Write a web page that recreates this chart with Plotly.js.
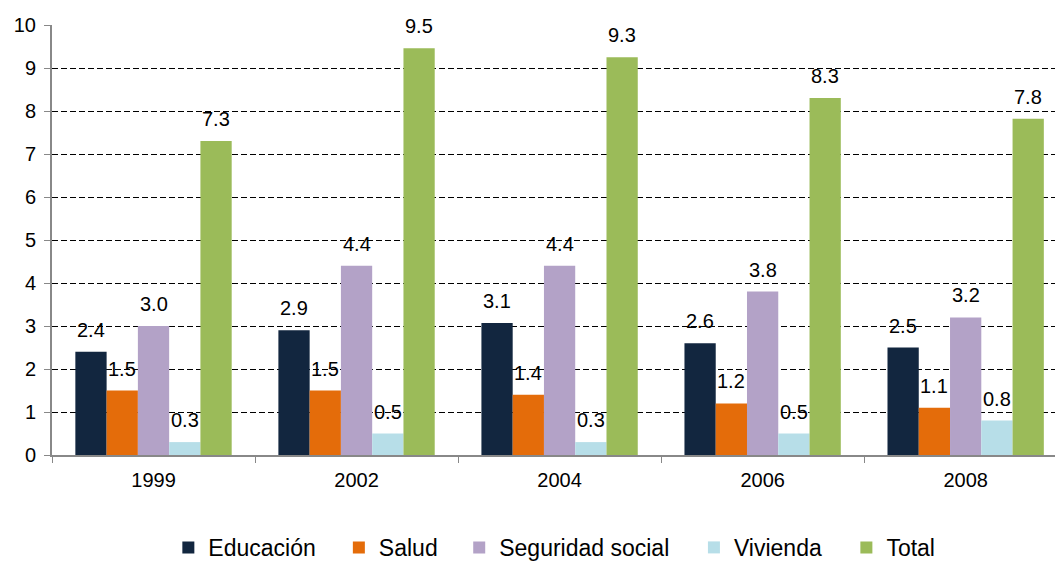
<!DOCTYPE html>
<html>
<head>
<meta charset="utf-8">
<script src="https://cdn.plot.ly/plotly-3.0.1.min.js"></script>
<style>html,body{margin:0;padding:0;background:#fff;}#chart{width:1055px;height:562px;}</style>
</head>
<body>
<div id="chart"></div>
<script>
const years = ["1999", "2002", "2004", "2006", "2008"];
const seriesNames = ["Educación", "Salud", "Seguridad social", "Vivienda", "Total"];
const educacion = [2.4, 2.9, 3.07, 2.6, 2.5];
const salud = [1.5, 1.5, 1.4, 1.2, 1.1];
const seguridad = [3.0, 4.4, 4.4, 3.8, 3.2];
const vivienda = [0.3, 0.5, 0.3, 0.5, 0.8];
const total = [7.3, 9.46, 9.25, 8.3, 7.82];
const colors = ["#12263F", "#E46C0A", "#B3A2C7", "#B7DEE8", "#9BBB59"];

const allSeries = [educacion, salud, seguridad, vivienda, total];
const bargap = 0.23;
const n = allSeries.length;
const w = (1 - bargap) / n;

const FONT = "Liberation Sans, Arial, sans-serif";

// legend entry positions (paper fraction of plot width)
const legendX = [0.116, 0.286, 0.406, 0.640, 0.792];
const legendIds = ["legend", "legend2", "legend3", "legend4", "legend5"];

const traces = allSeries.map((vals, i) => ({
  type: "bar",
  name: seriesNames[i],
  x: years,
  y: vals,
  legend: legendIds[i],
  marker: {color: colors[i], line: {width: 0}},
  hoverinfo: "none"
}));

const annotations = [];
allSeries.forEach((vals, i) => {
  vals.forEach((v, j) => {
    annotations.push({
      x: j + (i - (n - 1) / 2) * w,
      y: v,
      xref: "x", yref: "y",
      text: v.toFixed(1),
      showarrow: false,
      yanchor: "middle",
      yshift: 22,
      font: {family: FONT, size: 20, color: "#000"}
    });
  });
});

const layout = {
  width: 1055, height: 562,
  margin: {l: 52, r: 0, t: 25, b: 106.5, autoexpand: false},
  paper_bgcolor: "#fff", plot_bgcolor: "#fff",
  font: {family: FONT, size: 20, color: "#000"},
  barmode: "group",
  bargap: bargap,
  bargroupgap: 0,
  showlegend: true,
  xaxis: {
    type: "category",
    range: [-0.5, 4.44],
    showline: true, linecolor: "#888", linewidth: 2,
    ticks: "outside", tickson: "boundaries", ticklen: 6, tickcolor: "#888",
    ticklabelstandoff: 6,
    showgrid: false, zeroline: false,
    tickfont: {family: FONT, size: 20, color: "#000"}
  },
  yaxis: {
    range: [0, 10],
    tickvals: [0,1,2,3,4,5,6,7,8,9,10],
    showline: true, linecolor: "#888", linewidth: 2,
    ticks: "outside", ticklen: 6, tickcolor: "#888",
    ticklabelstandoff: 4,
    showgrid: true, gridcolor: "#000", griddash: "6px,3px", gridwidth: 1,
    zeroline: false,
    tickfont: {family: FONT, size: 20, color: "#000"}
  },
  annotations: annotations
};

legendIds.forEach((id, i) => {
  layout[id] = {
    orientation: "h",
    x: legendX[i], xanchor: "left",
    y: -0.215, yanchor: "middle",
    bgcolor: "rgba(0,0,0,0)",
    borderwidth: 0,
    font: {family: FONT, size: 23, color: "#000"}
  };
});

Plotly.newPlot("chart", traces, layout, {displayModeBar: false, staticPlot: true});
</script>
</body>
</html>
